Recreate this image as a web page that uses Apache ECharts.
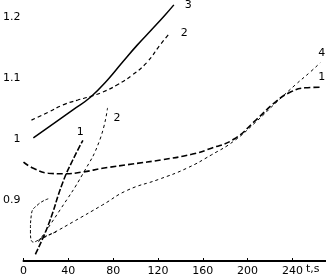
<!DOCTYPE html>
<html><head><meta charset="utf-8">
<script src="https://cdn.jsdelivr.net/npm/echarts@6/dist/echarts.min.js"></script>
<style>html,body{margin:0;padding:0;background:#fff}#c{width:326px;height:278px}</style>
</head><body><div id="c"></div>
<script>
// x ticks (t, s) and y ticks
const xTicks = [0, 40, 80, 120, 160, 200, 240];
const yTicks = [0.9, 1.0, 1.1, 1.2];

// Curve 3 (steep, upper)
const c3x = [8.8, 26.5, 44.1, 60.0, 75.0, 88.3, 101.5, 114.7, 126.2, 134.2];
const c3y = [1.002, 1.025, 1.048, 1.069, 1.097, 1.126, 1.154, 1.180, 1.203, 1.220];
// Curve 2 (gentle, upper)
const c2x = [7.1, 22.1, 35.3, 48.5, 60.0, 70.6, 83.8, 97.1, 110.3, 121.8, 130.6];
const c2y = [1.031, 1.044, 1.056, 1.064, 1.070, 1.077, 1.089, 1.105, 1.126, 1.154, 1.174];
// Curve 1 (flat, then rising, levels off at right)
const c1x = [0, 8.8, 22.1, 35.3, 53, 70.6, 97.1, 123.6, 150, 167.7, 188, 207.4, 225, 238.3, 251.5, 264.8];
const c1y = [0.962, 0.952, 0.944, 0.943, 0.946, 0.952, 0.959, 0.966, 0.975, 0.985, 1.0, 1.031, 1.061, 1.077, 1.084, 1.085];
// Curve 4 (thin dashed, lower, rising to right)
const c4x = [13.2, 26.5, 44.1, 70.6, 92.7, 120.9, 145.6, 167.7, 188, 207.4, 225, 242.7, 256, 264.8];
const c4y = [0.834, 0.846, 0.864, 0.892, 0.916, 0.934, 0.952, 0.974, 0.997, 1.028, 1.059, 1.089, 1.110, 1.125];
// Short steep branches near the start
const b1x = [10.6, 22.1, 35.3, 44.1, 53];
const b1y = [0.811, 0.859, 0.930, 0.966, 0.998];
const b2x = [13.2, 32.7, 53, 68, 75];
const b2y = [0.831, 0.884, 0.943, 0.998, 1.051];
// Small loop at the start
const lpx = [22.1, 13.2, 7.1, 6.2, 8.8, 17.7, 30.9];
const lpy = [0.902, 0.893, 0.877, 0.849, 0.831, 0.839, 0.849];

const zip = (a, b) => a.map((v, i) => [v, b[i]]);
const black = '#000';
function ser(x, y, type, width, label, pos) {
  return {
    type: 'line', data: zip(x, y), smooth: true, symbol: 'none', silent: true,
    lineStyle: { color: black, width: width, type: type },
    endLabel: label ? { show: true, formatter: label, color: black, fontSize: 11,
      fontFamily: 'DejaVu Sans', offset: pos || [2, 0] } : undefined
  };
}

const chart = echarts.init(document.getElementById('c'));
chart.setOption({
  animation: false,
  grid: { left: 20, right: 0, top: 0, bottom: 17 },
  xAxis: {
    type: 'value', min: 0, max: 270, interval: 40,
    axisLine: { lineStyle: { color: black, width: 2 } },
    axisTick: { inside: true, length: 3, lineStyle: { color: black } },
    splitLine: { show: false },
    axisLabel: { color: black, fontSize: 11, fontFamily: 'DejaVu Sans', margin: 5, showMaxLabel: false,
      formatter: v => xTicks.includes(v) ? String(v) : '' }
  },
  yAxis: {
    type: 'value', min: 0.8, max: 1.228, interval: 0.1,
    axisLine: { show: false }, axisTick: { show: false }, splitLine: { show: false },
    axisLabel: { color: black, fontSize: 11, fontFamily: 'DejaVu Sans', margin: 3,
      showMinLabel: false, showMaxLabel: false,
      formatter: v => { const r = Math.round(v * 10) / 10; return yTicks.includes(r) ? String(r) : ''; } }
  },
  graphic: [{ type: 'text', left: 306, top: 264, style: { text: 't,s', fill: black, font: '11px DejaVu Sans' } }],
  series: [
    ser(c3x, c3y, 'solid', 1.5, '3', [3, 0]),
    ser(c2x, c2y, [4, 3], 1.2, '2', [3, 0]),
    ser(c1x, c1y, [6, 3], 1.6, '1', [-10, -10]),
    ser(c4x, c4y, [3, 3], 1, '4', [-10, -10]),
    ser(b1x, b1y, [6, 2], 1.6, '1', [-14, -8]),
    ser(b2x, b2y, [3, 3], 1, '2', [-2, 10]),
    ser(lpx, lpy, [3, 2], 1, null)
  ]
});
</script></body></html>
